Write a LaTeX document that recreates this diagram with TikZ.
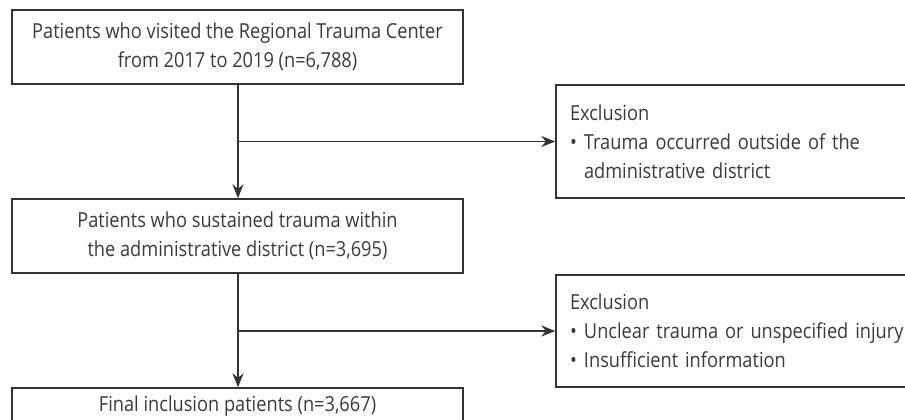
\documentclass[tikz,border=0pt]{standalone}
\usepackage{fontspec}
\setmainfont{Open Sans}[FakeStretch=0.88]
\usetikzlibrary{arrows.meta}
\definecolor{ln}{HTML}{333333}
\definecolor{tx}{HTML}{3A3A3A}
\begin{document}
\begin{tikzpicture}[x=1pt,y=-1pt,
  every node/.style={text=tx, font=\fontsize{20.7}{29}\selectfont},
  mainbox/.style={draw=ln, line width=1.4pt, minimum width=451pt, inner sep=0pt, align=center},
  exbox/.style={draw=ln, line width=1.4pt, inner xsep=14pt, inner ysep=0pt, text width=400pt, align=left},
  flow/.style={draw=ln, line width=1.4pt, -{Stealth[length=14pt,width=11pt]}}
]
\useasboundingbox (0,0) rectangle (905,420);
\clip (0,0) rectangle (905,420);

\node[mainbox, minimum height=74pt] (b1) at (237.5,47) {Patients who visited the Regional Trauma Center\\from 2017 to 2019 (n=6,788)};
\node[mainbox, minimum height=74pt] (b2) at (237.5,236) {Patients who sustained trauma within\\the administrative district (n=3,695)};
\node[mainbox, minimum height=36pt] (b3) at (237.5,406) {Final inclusion patients (n=3,667)};

\node[exbox, minimum height=113pt] (e1) at (770,141.5) {Exclusion\\\makebox[14pt][l]{\textbullet}Trauma occurred outside of the\\\hspace*{14pt}administrative district};
\node[exbox, minimum height=112pt] (e2) at (770,331) {Exclusion\\\makebox[14pt][l]{\textbullet}Unclear trauma or unspecified injury\\\makebox[14pt][l]{\textbullet}Insufficient information};

\coordinate (j1) at (238,141.5);
\coordinate (j2) at (238,331);

\draw[flow] (b1.south -| j1) -- (b2.north -| j1);
\draw[flow] (j1) -- (e1.west);
\draw[flow] (b2.south -| j2) -- (b3.north -| j2);
\draw[flow] (j2) -- (e2.west);
\end{tikzpicture}
\end{document}
